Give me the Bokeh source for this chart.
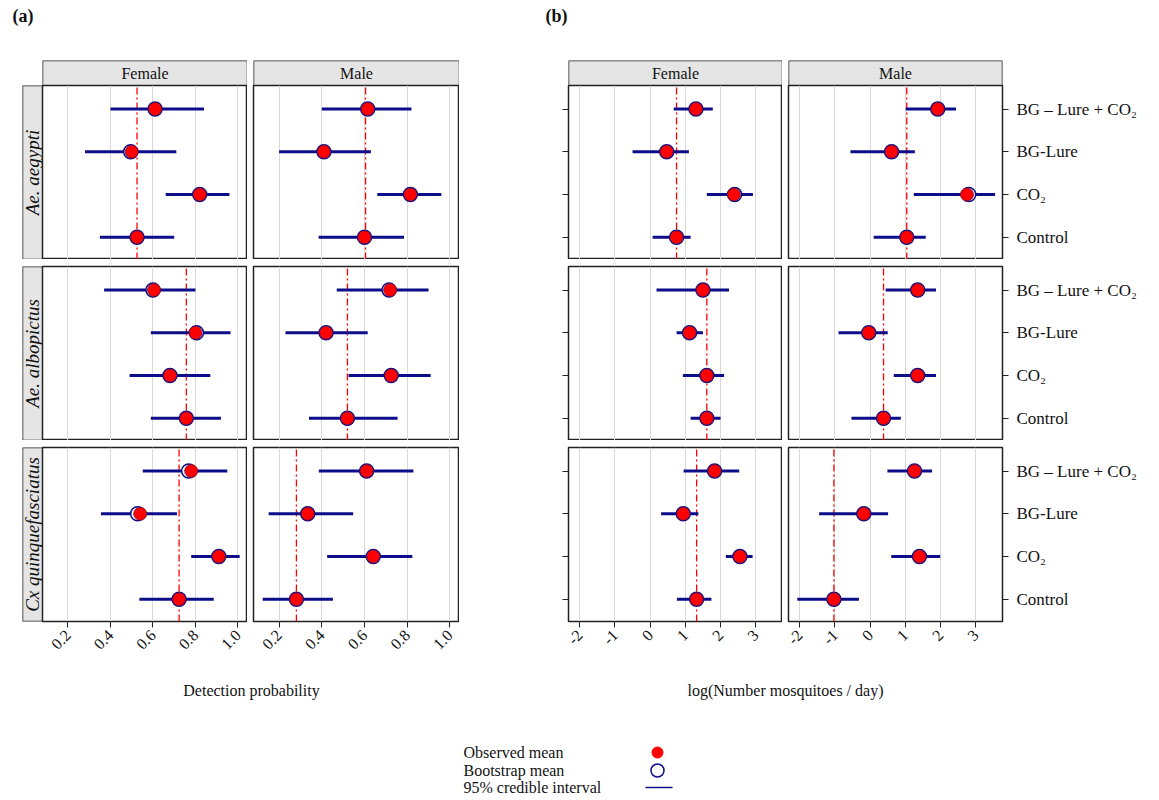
import math
from bokeh.plotting import figure
from bokeh.models import Range1d, FixedTicker, LinearAxis
from bokeh.layouts import row, column
from bokeh.core.properties import value
from bokeh.embed import file_html
from bokeh.resources import INLINE

FONT = "Liberation Serif"
NAVY = "#0d0d8a"

# category order, top to bottom: BG-Lure+CO2, BG-Lure, CO2, Control
treatments = ["BG \u2013 Lure + CO\u2082", "BG-Lure", "CO\u2082", "Control"]
ypos = [4, 3, 2, 1]
species = ["Ae. aegypti", "Ae. albopictus", "Cx quinquefasciatus"]

# (a) detection probability
det_aeg_f = dict(obs=[0.61, 0.50, 0.82, 0.525], boot=[0.61, 0.495, 0.82, 0.525],
                 lo=[0.40, 0.28, 0.66, 0.35], hi=[0.84, 0.71, 0.96, 0.70], line=0.525)
det_aeg_m = dict(obs=[0.615, 0.41, 0.815, 0.60], boot=[0.615, 0.41, 0.815, 0.60],
                 lo=[0.40, 0.20, 0.66, 0.385], hi=[0.82, 0.63, 0.96, 0.785], line=0.605)
det_alb_f = dict(obs=[0.605, 0.80, 0.68, 0.757], boot=[0.60, 0.805, 0.68, 0.757],
                 lo=[0.37, 0.59, 0.49, 0.59], hi=[0.80, 0.965, 0.87, 0.92], line=0.757)
det_alb_m = dict(obs=[0.72, 0.42, 0.725, 0.52], boot=[0.715, 0.42, 0.725, 0.52],
                 lo=[0.47, 0.23, 0.525, 0.34], hi=[0.90, 0.615, 0.91, 0.755], line=0.52)
det_cx_f = dict(obs=[0.78, 0.54, 0.91, 0.723], boot=[0.768, 0.528, 0.91, 0.723],
                lo=[0.552, 0.355, 0.78, 0.536], hi=[0.95, 0.713, 1.008, 0.886], line=0.723)
det_cx_m = dict(obs=[0.61, 0.334, 0.641, 0.281], boot=[0.61, 0.334, 0.641, 0.281],
                lo=[0.386, 0.151, 0.425, 0.123], hi=[0.829, 0.547, 0.824, 0.452], line=0.281)

# (b) log(number mosquitoes / day)
cnt_aeg_f = dict(obs=[1.30, 0.47, 2.38, 0.75], boot=[1.30, 0.47, 2.40, 0.75],
                 lo=[0.67, -0.50, 1.61, 0.07], hi=[1.78, 1.10, 2.92, 1.15], line=0.75)
cnt_aeg_m = dict(obs=[1.92, 0.61, 2.75, 1.04], boot=[1.92, 0.61, 2.80, 1.04],
                 lo=[1.01, -0.56, 1.24, 0.10], hi=[2.44, 1.27, 3.55, 1.58], line=1.04)
cnt_alb_f = dict(obs=[1.50, 1.12, 1.61, 1.61], boot=[1.50, 1.12, 1.61, 1.61],
                 lo=[0.18, 0.75, 0.93, 1.15], hi=[2.24, 1.50, 2.10, 2.00], line=1.61)
cnt_alb_m = dict(obs=[1.35, -0.04, 1.35, 0.38], boot=[1.35, -0.04, 1.35, 0.38],
                 lo=[0.44, -0.90, 0.67, -0.53], hi=[1.87, 0.50, 1.87, 0.87], line=0.38)
cnt_cx_f = dict(obs=[1.83, 0.94, 2.55, 1.32], boot=[1.83, 0.94, 2.55, 1.32],
                lo=[0.95, 0.31, 2.15, 0.76], hi=[2.53, 1.37, 2.91, 1.74], line=1.32)
cnt_cx_m = dict(obs=[1.26, -0.18, 1.40, -1.03], boot=[1.26, -0.18, 1.40, -1.03],
                lo=[0.49, -1.45, 0.60, -2.07], hi=[1.76, 0.51, 1.99, -0.32], line=-1.03)

det_ticks = [0.2, 0.4, 0.6, 0.8, 1.0]
cnt_ticks = [-2, -1, 0, 1, 2, 3]
det_range = (0.08, 1.045)
cnt_range = (-2.32, 3.76)

FH = 174
GAP = 7
BOT = 45


def base(fw, fh, left=0, right=0, top=0, bottom=0, xr=(0, 1), yr=(0, 1)):
    p = figure(frame_width=fw, frame_height=fh, output_backend="svg",
               toolbar_location=None, x_range=Range1d(*xr), y_range=Range1d(*yr),
               min_border_left=left, min_border_right=right,
               min_border_top=top, min_border_bottom=bottom)
    p.axis.visible = False
    p.grid.visible = False
    p.outline_line_color = None
    p.background_fill_color = "white"
    return p


def strip(fw, fh, text, left=0, right=0, top=0, bottom=0, vertical=False):
    p = base(fw, fh, left, right, top, bottom)
    if text is None:
        return p
    p.quad(left=0, right=1, bottom=0, top=1, fill_color="#e5e5e5",
           line_color="#222222", line_width=1.5)
    p.text(x=[0.5], y=[0.5], text=[text], text_align="center", text_baseline="middle",
           angle=math.pi / 2 if vertical else 0, text_font=value(FONT),
           text_font_size="19px" if vertical else "16px",
           text_font_style="italic" if vertical else "normal", text_color="#111111")
    return p


def panel(d, fw, xr, ticks, left=0, right=0, top=0, bottom=0,
          show_x=False, right_labels=False, left_ticks=False):
    p = base(fw, FH, left, right, top, bottom, xr=xr, yr=(0.48, 4.55))
    p.outline_line_color = "#222222"
    p.outline_line_width = 1.5
    p.xgrid.visible = True
    p.xgrid.ticker = FixedTicker(ticks=ticks)
    p.xgrid.grid_line_color = "#d9d9d9"
    p.xgrid.grid_line_width = 1
    p.ygrid.visible = False
    if show_x:
        ax = p.xaxis[0]
        ax.visible = True
        ax.ticker = FixedTicker(ticks=ticks)
        ax.major_label_orientation = math.pi / 4
        ax.major_label_text_font = FONT
        ax.major_label_text_font_size = "16px"
        ax.major_label_text_color = "#111111"
        ax.axis_line_color = None
        ax.major_tick_line_color = "#222222"
        ax.major_tick_out = 6
        ax.major_tick_in = 0
        ax.minor_tick_line_color = None
        ax.major_label_overrides = {t: ("%.1f" % t if isinstance(t, float) else str(t)) for t in ticks}
    if right_labels or left_ticks:
        ya = LinearAxis(ticker=FixedTicker(ticks=ypos),
                        major_label_overrides={y: t for y, t in zip(ypos, treatments)})
        ya.axis_line_color = None
        ya.major_tick_line_color = "#222222"
        ya.major_tick_out = 6
        ya.major_tick_in = 0
        ya.minor_tick_line_color = None
        ya.major_label_text_font = FONT
        ya.major_label_text_font_size = "17px"
        ya.major_label_text_color = "#111111" if right_labels else None
        ya.major_label_standoff = 8
        p.add_layout(ya, "right" if right_labels else "left")
    p.ray(x=[d["line"]], y=[0.48], length=0, angle=math.pi / 2, line_color="red",
          line_width=1.3, line_dash="7 3 2 3")
    p.segment(x0=d["lo"], x1=d["hi"], y0=ypos, y1=ypos, line_color=NAVY, line_width=3)
    p.scatter(x=d["boot"], y=ypos, size=14, fill_color="white", line_color=NAVY, line_width=1.5)
    p.scatter(x=d["obs"], y=ypos, size=13, fill_color="red", line_color="#6a0a3a", line_width=0.8)
    return p


det = [(det_aeg_f, det_aeg_m), (det_alb_f, det_alb_m), (det_cx_f, det_cx_m)]
cnt = [(cnt_aeg_f, cnt_aeg_m), (cnt_alb_f, cnt_alb_m), (cnt_cx_f, cnt_cx_m)]

# top letters
top = base(1150, 60, xr=(0, 1150), yr=(60, 0))
top.text(x=[12, 545], y=[15, 15], text=["(a)", "(b)"], text_baseline="middle",
         text_font=value(FONT), text_font_size="18px", text_font_style="bold",
         text_color="#111111")

strips = row(
    strip(20, 25, None, left=22),
    strip(205, 25, "Female"),
    strip(206, 25, "Male", left=6),
    strip(214, 25, "Female", left=109),
    strip(214, 25, "Male", left=6, right=148),
)

rows = []
for i in range(3):
    t = 0 if i == 0 else GAP
    last = i == 2
    b = BOT if last else 0
    rows.append(row(
        strip(20, FH, species[i], left=22, top=t, bottom=b, vertical=True),
        panel(det[i][0], 205, det_range, det_ticks, top=t, bottom=b, show_x=last),
        panel(det[i][1], 206, det_range, det_ticks, left=6, top=t, bottom=b, show_x=last),
        panel(cnt[i][0], 214, cnt_range, cnt_ticks, left=109, top=t, bottom=b,
              show_x=last, left_ticks=True),
        panel(cnt[i][1], 214, cnt_range, cnt_ticks, left=6, right=148, top=t, bottom=b,
              show_x=last, right_labels=True),
    ))

# axis titles and legend
bot = base(1150, 130, xr=(0, 1150), yr=(130, 0))
bot.text(x=[251, 785], y=[24, 24], text=["Detection probability", "log(Number mosquitoes / day)"],
         text_align="center", text_baseline="middle", text_font=value(FONT),
         text_font_size="16px", text_color="#111111")
legend_labels = ["Observed mean", "Bootstrap mean", "95% credible interval"]
bot.text(x=[463] * 3, y=[86, 104, 121], text=legend_labels, text_baseline="middle",
         text_font=value(FONT), text_font_size="16px", text_color="#111111")
bot.scatter(x=[657], y=[104], size=13, fill_color="white", line_color=NAVY, line_width=1.5)
bot.scatter(x=[657], y=[86], size=11, fill_color="red", line_color="red")
bot.segment(x0=[645], x1=[672], y0=[121], y1=[121], line_color=NAVY, line_width=1.5)

layout = column(top, strips, *rows, bot)
open("out.html", "w").write(file_html(layout, INLINE))
